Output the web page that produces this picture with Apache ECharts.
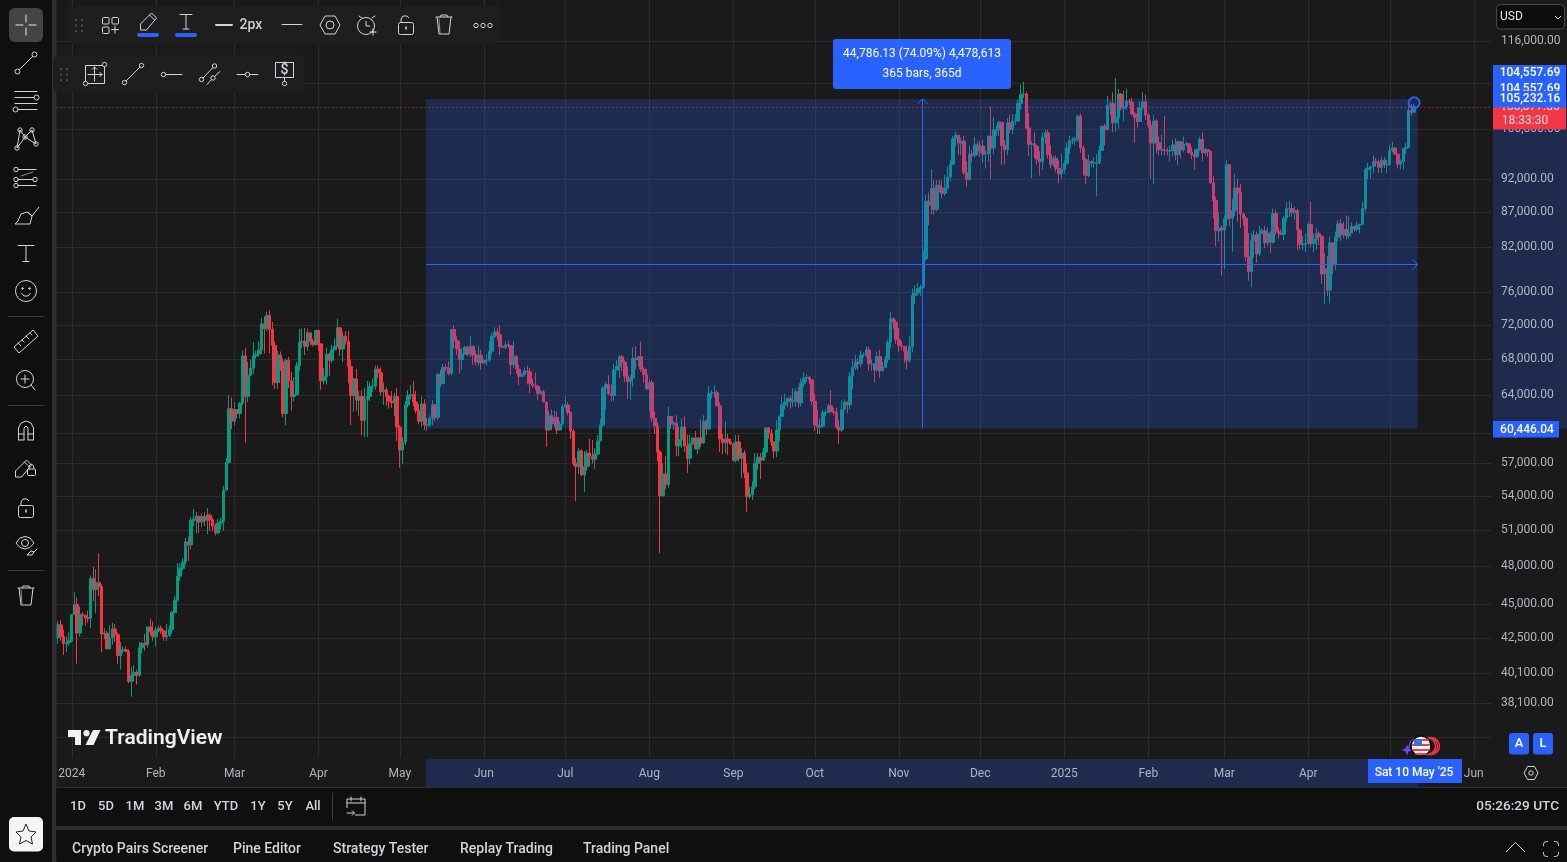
<!DOCTYPE html>
<html>
<head>
<meta charset="utf-8">
<title>BTC daily</title>
<style>html,body{margin:0;padding:0;background:#1a1a1a}#chart{width:1567px;height:862px}</style>
<script src="https://cdn.jsdelivr.net/npm/echarts@6/dist/echarts.min.js"></script>
</head>
<body>
<div id="chart"></div>
<script>
// Daily BTC prices in thousands of USD, one line per calendar month.
const firstDay = '2023-12-27';
const firstOpen = 42.5;
const closes = [
43.45,42.6,42.1,42.15,42.28,
44.2,44.95,42.85,44.2,44.15,43.97,43.93,46.97,46.1,46.63,46.34,42.78,42.84,41.73,42.5,43.15,42.74,41.26,41.62,41.66,41.55,39.5,39.9,40.1,39.93,41.8,42.12,42.03,43.3,42.95,42.58,
43.08,43.2,43.0,42.58,42.66,43.09,44.35,45.29,47.15,47.77,48.29,49.96,49.7,51.8,51.9,52.16,51.66,52.12,51.78,52.26,51.85,51.3,50.73,51.57,51.73,54.5,57.08,62.5,61.2,
62.4,62.0,63.1,68.3,63.8,66.1,66.9,68.3,68.5,69.0,72.1,71.5,73.1,71.4,69.5,65.3,68.4,67.6,62.0,67.8,65.5,63.8,64.0,67.2,69.9,69.99,69.4,71.0,70.0,69.6,71.3,
69.7,65.5,66.0,68.5,67.8,69.0,69.4,71.6,69.1,70.6,70.0,67.1,63.9,65.7,63.4,63.8,61.3,63.5,63.8,64.9,64.9,66.8,66.4,64.3,64.5,63.8,63.3,63.1,63.8,60.6,
58.3,59.1,62.9,63.9,64.0,63.2,62.3,61.2,63.0,60.8,60.8,61.5,62.9,61.6,66.2,65.2,67.0,66.9,66.3,71.4,70.1,69.1,67.9,68.5,69.3,68.5,69.4,68.4,67.6,68.4,67.5,
67.8,67.8,68.8,70.6,71.1,70.8,69.4,69.3,69.6,69.5,67.3,68.2,66.8,66.0,66.2,66.6,66.5,65.2,65.0,64.9,64.1,64.3,63.2,60.3,61.8,60.9,61.6,60.3,60.9,62.7,
62.9,62.1,60.2,57.0,56.7,58.2,55.9,56.7,58.0,57.7,57.4,57.9,59.2,60.8,64.7,65.1,64.1,63.9,66.7,67.1,68.2,67.6,66.0,65.4,65.8,68.0,67.9,68.2,66.8,66.2,64.6,
65.3,61.5,60.7,58.1,54.0,56.0,55.0,61.7,60.9,61.0,58.7,59.3,60.6,58.7,57.5,58.9,59.5,58.4,59.5,59.0,61.2,60.4,64.1,64.2,64.2,62.8,59.4,59.0,59.4,59.1,58.9,
57.3,59.1,57.5,58.0,56.1,53.9,54.1,54.8,57.0,57.6,57.3,58.1,60.5,60.0,59.1,58.2,60.3,61.7,62.9,63.2,63.6,63.3,63.3,64.3,63.1,65.2,65.8,65.9,65.6,63.3,
60.8,60.6,60.7,62.1,62.1,62.8,62.2,62.1,60.6,60.3,62.4,63.2,62.9,66.0,67.0,67.6,67.4,68.4,68.4,69.0,67.4,67.4,66.7,68.2,66.6,67.0,67.9,69.9,72.7,72.3,70.2,
69.5,69.4,68.8,67.8,69.4,75.6,75.9,76.5,76.7,80.4,88.6,88.0,90.5,87.4,91.0,90.6,89.8,90.5,92.3,94.3,98.4,99.0,97.7,98.0,93.0,91.9,95.9,95.7,97.4,96.4,
97.2,95.9,96.0,98.8,96.9,99.9,99.9,101.2,97.3,96.6,101.1,100.0,101.4,101.4,104.4,106.0,106.1,100.2,97.5,97.6,97.2,95.1,94.7,98.7,99.4,95.8,94.2,95.2,93.6,92.8,93.4,
94.4,96.9,98.1,98.2,98.3,102.2,96.9,95.0,92.5,94.7,94.5,94.5,94.5,96.5,100.5,99.9,104.1,104.4,101.1,102.0,106.1,103.6,103.9,104.8,104.7,102.6,102.0,101.3,103.7,104.7,102.4,
100.6,97.7,101.4,97.8,96.6,96.6,96.5,96.4,96.5,97.4,95.8,97.9,96.6,97.5,97.6,96.2,95.8,95.5,96.6,98.3,96.1,96.6,96.3,91.4,88.7,84.3,84.7,84.4,
86.0,94.2,86.1,87.2,90.6,89.9,86.7,86.1,80.7,78.7,82.9,83.7,81.1,83.9,84.3,82.6,84.0,82.7,86.8,84.2,84.0,83.8,86.1,87.5,87.5,86.9,87.2,84.4,82.4,82.4,82.5,
85.2,82.5,83.1,83.9,83.5,78.4,79.1,76.3,82.6,79.6,83.4,85.3,83.7,84.5,83.6,84.0,84.9,84.5,85.1,85.2,87.5,93.4,93.7,93.9,94.7,94.6,93.8,94.9,94.2,94.2,
96.5,96.9,95.9,94.3,94.7,96.8,97.0,103.2,102.9,103.87785
];
const highs = [
43.7,43.8,43.1,42.6,42.9,
44.2,45.9,45.5,44.8,44.4,44.2,44.5,47.2,47.9,47.7,49.0,46.5,43.2,43.0,43.4,43.6,43.5,42.9,42.2,41.9,41.9,41.7,40.5,40.6,40.3,42.2,42.2,42.8,43.3,43.9,43.7,
43.3,43.4,43.4,43.1,43.5,43.4,44.5,45.6,48.2,48.2,48.6,50.3,50.4,52.1,52.8,52.5,52.1,52.4,52.5,52.9,52.4,52.0,51.5,51.9,52.0,54.9,57.5,63.9,63.7,
63.2,62.4,63.2,68.9,69.2,67.6,67.9,69.9,68.9,70.0,72.8,73.0,73.6,73.7,72.3,70.0,68.9,68.8,68.0,68.0,68.2,66.5,65.9,67.6,71.5,71.5,71.6,71.5,71.0,70.3,71.3,
71.3,69.7,66.9,69.3,68.7,69.6,70.3,72.7,71.7,71.1,71.2,71.2,67.9,65.8,66.8,64.4,64.5,64.7,65.5,65.4,65.7,67.2,67.2,67.0,65.3,64.8,64.0,64.4,64.2,64.7,
60.8,59.6,63.3,64.5,65.0,65.5,64.4,63.0,63.8,63.5,61.5,61.8,63.4,63.0,66.4,66.7,67.4,67.4,67.7,71.5,71.9,70.6,70.0,69.2,69.5,69.5,70.6,69.5,68.9,69.5,69.0,
68.0,68.5,70.0,71.0,71.7,71.6,71.9,69.5,70.0,70.1,69.5,70.0,68.4,67.3,66.4,67.0,67.2,66.9,65.7,66.4,65.0,64.5,64.5,63.3,62.3,62.4,62.3,62.2,61.2,63.0,
63.8,63.2,62.2,60.4,57.5,58.5,58.4,58.2,58.3,59.4,59.3,58.5,59.8,61.4,64.9,65.4,66.1,65.1,67.4,67.8,68.4,68.4,67.8,67.1,66.1,69.3,69.4,68.3,70.0,67.0,66.8,
65.6,65.6,62.2,61.1,58.3,57.0,57.7,62.7,61.7,61.2,61.8,60.6,61.5,61.7,59.8,59.8,59.6,60.2,59.6,61.4,61.8,61.4,64.9,64.5,65.0,64.5,63.2,59.9,61.2,59.9,59.4,
59.0,59.8,59.8,58.5,58.3,57.0,54.8,55.3,58.0,58.0,58.0,58.5,60.6,60.6,60.4,59.1,61.3,61.8,63.8,64.1,63.6,63.9,64.7,64.7,64.8,65.8,66.4,66.2,66.0,65.6,
64.1,62.4,61.5,62.4,62.4,63.0,64.5,62.6,62.6,61.3,63.4,63.5,63.3,66.5,67.9,68.4,68.0,68.9,68.7,69.4,69.4,67.9,67.5,68.8,69.0,67.6,68.3,70.2,73.6,72.9,72.6,
71.6,70.0,69.4,69.5,70.6,76.5,76.9,77.2,77.0,81.5,89.6,89.9,93.5,91.8,91.8,91.8,91.7,92.6,94.0,94.9,98.9,99.6,98.8,98.6,98.9,94.7,97.3,96.6,98.7,98.0,
98.0,98.2,96.5,99.0,103.9,102.0,100.6,101.4,101.2,98.2,101.9,102.5,102.6,102.6,105.1,107.8,108.3,106.5,102.8,98.0,99.5,97.4,96.4,99.4,99.9,99.9,97.4,95.6,95.7,94.9,96.0,
94.9,97.8,98.9,98.7,98.8,102.5,102.7,97.3,95.3,95.8,94.9,95.4,95.9,97.3,100.7,100.9,105.8,104.9,106.4,109.0,107.0,106.3,106.7,107.1,105.3,105.4,103.0,103.7,104.8,106.4,106.0,
102.8,101.5,102.5,101.7,98.8,99.1,102.3,96.9,97.3,98.3,98.5,98.1,98.0,98.8,97.9,97.7,97.0,96.7,96.9,98.7,99.5,96.9,96.6,96.5,92.4,89.3,87.0,85.1,
86.5,95.0,94.3,88.9,92.8,92.0,91.2,86.9,86.4,84.0,84.0,84.4,84.2,85.0,84.7,85.0,84.8,84.2,87.5,87.3,84.8,84.5,86.4,88.5,88.7,88.3,87.8,87.5,84.6,83.5,83.9,
85.6,88.5,83.9,84.7,84.2,83.7,81.2,80.8,83.5,82.6,84.2,85.8,86.0,85.6,86.5,86.4,85.5,85.0,85.6,85.3,88.5,93.7,94.5,94.0,95.7,95.3,95.0,95.5,95.4,95.0,
97.4,97.9,97.0,96.0,95.1,96.9,97.7,104.0,104.3,104.4
];
const lows = [
42.1,42.3,41.3,41.5,41.95,
42.2,44.2,40.7,42.6,43.4,43.4,43.6,43.2,45.2,44.3,45.6,41.5,42.4,41.7,41.7,42.0,42.2,40.7,40.3,41.4,41.5,39.4,38.5,39.5,39.3,39.8,41.4,41.6,41.8,42.7,42.3,
41.9,42.9,42.8,42.3,42.3,42.6,42.8,44.3,45.2,46.8,47.6,48.1,48.4,49.3,51.3,50.7,50.7,51.2,51.3,50.6,50.9,50.9,50.5,50.6,51.0,50.9,54.4,57.0,60.4,
60.8,61.5,61.5,62.9,59.0,63.2,66.0,66.2,68.0,68.2,68.5,68.6,71.2,68.6,65.0,64.6,64.6,66.6,61.6,60.8,64.7,62.3,63.3,63.9,66.6,69.2,68.4,68.9,69.6,69.4,69.5,
68.9,64.5,65.1,65.1,66.0,67.5,69.0,69.3,68.3,67.6,69.6,65.2,60.8,62.2,62.3,61.7,59.8,59.6,59.6,63.3,64.3,64.5,65.8,63.9,62.9,62.8,62.5,62.6,61.7,59.2,
56.6,56.9,58.8,62.6,63.5,62.8,62.0,60.9,60.6,60.3,60.2,60.6,60.8,61.2,61.3,64.8,65.1,66.6,66.1,66.1,69.2,68.4,66.3,66.7,68.5,68.3,68.2,67.3,67.2,67.2,66.7,
67.4,67.2,67.6,68.5,70.4,70.1,68.4,69.2,69.1,69.2,66.1,66.9,66.3,65.0,65.9,66.1,65.1,64.1,64.7,64.5,63.4,64.0,63.2,58.6,60.3,60.3,60.6,59.9,60.5,60.8,
62.5,61.8,59.4,56.8,53.5,56.0,55.8,54.3,56.3,56.7,57.0,56.5,57.8,59.5,60.6,62.4,63.9,63.3,63.3,66.7,65.8,66.6,65.4,63.5,63.4,64.8,66.8,67.1,66.5,65.3,64.5,
62.3,61.1,59.9,57.2,49.0,53.9,54.6,54.7,60.4,60.3,57.7,57.7,58.5,58.1,56.1,56.9,58.8,58.4,57.9,58.6,58.9,59.8,60.4,63.6,63.7,62.8,58.1,57.9,58.0,57.8,58.8,
57.2,57.1,57.2,55.6,55.6,52.5,53.7,53.6,54.6,56.4,55.5,57.4,57.6,59.4,58.7,57.5,57.6,59.2,61.7,62.4,62.7,62.5,62.7,62.7,62.6,62.7,64.8,65.4,65.1,62.9,
60.2,59.9,59.9,60.5,61.7,62.1,62.1,61.8,60.4,58.9,60.1,62.4,62.0,62.4,64.6,66.7,66.7,67.0,68.1,68.1,66.6,66.6,65.3,66.5,65.8,66.8,66.9,67.5,69.2,71.5,69.7,
68.8,69.0,67.5,66.8,67.5,68.7,74.5,75.6,75.5,76.5,80.2,85.1,86.7,86.6,87.1,90.0,89.0,89.4,91.3,91.7,94.1,97.2,95.8,95.7,92.6,90.8,91.7,94.6,95.3,95.7,
95.4,94.6,93.6,94.7,91.9,95.9,98.9,98.8,94.2,94.3,95.7,99.3,99.2,100.7,101.3,103.3,105.4,100.0,95.6,92.1,95.2,94.2,92.5,93.4,97.6,95.2,93.6,93.9,93.0,91.3,92.0,
92.8,94.2,96.0,97.5,97.3,97.9,96.1,92.5,91.2,92.2,93.8,93.7,89.3,94.3,96.5,97.3,100.0,102.4,99.5,99.5,100.1,103.2,101.3,103.3,104.1,102.4,97.8,100.3,101.3,103.3,101.6,
100.2,92.0,91.2,96.1,95.7,95.7,95.7,95.7,94.7,95.5,94.9,94.1,95.2,96.2,97.2,96.0,95.1,93.4,95.3,96.4,94.8,95.7,95.4,91.2,86.1,82.1,82.8,78.2,
79.0,85.0,85.0,81.4,86.4,85.6,84.7,85.0,80.1,77.5,76.7,80.6,79.9,80.8,84.0,81.9,82.1,81.2,82.5,83.7,83.2,83.7,83.0,85.6,86.3,86.3,85.9,81.6,81.7,81.6,81.3,
82.4,82.0,81.3,81.6,82.3,77.1,74.5,75.5,74.6,78.4,78.9,82.8,82.9,83.2,83.1,83.2,84.0,84.2,84.2,83.9,85.1,87.1,91.9,92.0,92.9,93.9,92.9,92.9,93.7,92.9,
94.1,96.2,95.8,93.6,93.5,93.4,95.9,96.9,102.3,102.8
];

// Price scale ticks, and the month labels along the time scale.
const priceTicks = [116000,108000,100000,92000,87000,82000,76000,72000,68000,64000,60000,57000,54000,51000,48000,45000,42500,40100,38100];
const unlabelledTicks = [36000];
const monthDays = ['2024-01-01','2024-02-01','2024-03-01','2024-04-01','2024-05-01','2024-06-01','2024-07-01','2024-08-01','2024-09-01','2024-10-01','2024-11-01','2024-12-01','2025-01-01','2025-02-01','2025-03-01','2025-04-01','2025-05-01','2025-06-01'];
const monthNames = ['2024','Feb','Mar','Apr','May','Jun','Jul','Aug','Sep','Oct','Nov','Dec','2025','Feb','Mar','Apr','','Jun'];

// Price range measurement: two anchors, labelled by the tool.
const rangeTop = 105232.16;
const rangeBottom = 60446.04;
const rangeAnchorPrice = 104557.69;
const rangeStartBar = 135.6;
const rangeEndBar = 501.3;
const rangeAnchorBar = 500;
const rangeMidBar = 318.5;

const barCount = 529;
const days = [];
for (let i = 0, t = Date.parse(firstDay + 'T00:00:00Z'); i < barCount; i++, t += 864e5) {
  days.push(new Date(t).toISOString().slice(0, 10));
}
if (closes.length !== highs.length || closes.length !== lows.length || closes.length !== 501) {
  throw new Error('bar arrays differ: ' + [closes.length, highs.length, lows.length]);
}
const candles = closes.map((c, i) => {
  const o = i ? closes[i - 1] : firstOpen;
  return [o * 1000, c * 1000, Math.min(lows[i], o, c) * 1000, Math.max(highs[i], o, c) * 1000];
});
const lastPrice = closes[closes.length - 1] * 1000;

const FONT = 'Roboto, sans-serif';
const AXIS_TEXT = '#b2b5be';
const GRID = '#2c2c2c';
const BLUE = '#2962ff';
const RED = '#f23645';
const FG = '#d1d4dc';
const BAND = '#1e2b4e';
const plotLeft = 56.8, plotWidth = 1434.6, plotBottom = 758;

// ---- drawing helpers for the application chrome ----
const chrome = [];
function base(type, shape, style, z) { return {type, shape, style, z: z === undefined ? 100 : z, silent: true}; }
function ln(x1, y1, x2, y2, c, w, z) { chrome.push(base('line', {x1, y1, x2, y2}, {stroke: c || FG, lineWidth: w || 1, lineCap: 'round'}, z)); }
function ci(cx, cy, r, fill, stroke, w) { chrome.push(base('circle', {cx, cy, r}, {fill: fill || 'transparent', stroke: stroke === undefined ? FG : stroke, lineWidth: w || 1})); }
function rc(x, y, width, height, r, fill, stroke, z) { chrome.push(base('rect', {x, y, width, height, r: r || 0}, {fill: fill || 'transparent', stroke: stroke || 'transparent', lineWidth: 1}, z)); }
function rs(x, y, width, height, r) { rc(x, y, width, height, r, 'transparent', FG); }
function pl(points, c, w) { chrome.push(base('polyline', {points}, {stroke: c || FG, lineWidth: w || 1, fill: 'transparent', lineJoin: 'round'})); }
function pg(points, fill, stroke) { chrome.push(base('polygon', {points}, {fill: fill || 'transparent', stroke: stroke || 'transparent', lineWidth: 1})); }
function tx(text, x, y, font, fill, align, z) {
  chrome.push({type: 'text', z: z || 101, silent: true, style: {text, x, y, font: font + ' ' + FONT, fill: fill || FG, align: align || 'left', verticalAlign: 'middle'}});
}
function grip(x, y) { [x, x + 6].forEach(a => [y, y + 5.5, y + 11].forEach(b => rc(a - 1, b - 1, 2, 2, 0, '#4a4a4a'))); }
function trash(cx, cy) {
  ln(cx - 8, cy - 8, cx + 8, cy - 8);
  pl([[cx - 4, cy - 8], [cx - 3, cy - 10], [cx + 3, cy - 10], [cx + 4, cy - 8]]);
  pl([[cx - 7, cy - 8], [cx - 5, cy + 9], [cx + 5, cy + 9], [cx + 7, cy - 8]]);
  ln(cx - 5, cy - 6, cx - 4, cy + 8, '#8a8a8a');
}
function lock(cx, cy) {
  rs(cx - 7.5, cy - 3.5, 15, 12, 2);
  pl([[cx - 5, cy - 3.5], [cx - 5, cy - 7], [cx - 3, cy - 10], [cx + 1, cy - 10], [cx + 3, cy - 8]]);
  rc(cx - 0.8, cy + 0.5, 1.6, 3, 0, FG);
}
function pencil(x, y) {
  pg([[x, y + 15], [x, y + 9], [x + 11, y - 2], [x + 16, y + 3], [x + 6, y + 15]], null, FG);
  ln(x + 9, y, x + 14, y + 5);
}

// ---- panel backgrounds ----
rc(0, 0, 52, 862, 0, '#0f0f0f');
rc(52, 0, 4.5, 862, 0, '#2e2e2e');
rc(56, 787, 1511, 40, 3, '#0f0f0f');
rc(56, 826, 1511, 4, 0, '#2e2e2e');
rc(56, 830, 1511, 32, 3, '#0f0f0f');
ln(56, 787.5, 1567, 787.5, '#2e2e2e');

// ---- left tool rail ----
rc(9, 8, 34, 34, 6, '#444444');
ln(26, 15, 26, 22, '#e8e8e8'); ln(26, 28, 26, 35, '#e8e8e8'); ln(16, 25, 23, 25, '#e8e8e8'); ln(29, 25, 36, 25, '#e8e8e8');
ci(17.5, 71.5, 2.5); ci(34.5, 54.5, 2.5); ln(19.5, 69.5, 32.5, 56.5);
ln(15, 91.5, 37, 91.5); ln(15, 97.5, 34, 97.5); ci(36.5, 97.5, 2.5); ln(15, 103.5, 37, 103.5); ci(15.5, 109.5, 2.5); ln(18, 109.5, 37, 109.5);
[[20, 130], [32, 130], [17, 148], [36, 144], [25, 137]].forEach(p => ci(p[0], p[1], 2.2));
pl([[17, 148], [20, 130], [25, 137], [32, 130], [36, 144], [25, 137], [17, 148]]);
ln(18, 169.5, 36, 169.5); ci(16, 169.5, 2.2); ci(35, 179.5, 2.2); ln(18, 179.5, 33, 179.5); ci(16, 179.5, 2.2); ci(16, 185.5, 2.2); ln(18, 185.5, 36, 185.5); ln(21, 176, 33, 172, '#8a8a8a');
pl([[15, 224], [30, 224], [32, 216], [27, 212], [21, 214], [18, 221], [15, 224]]); pl([[28, 212], [32, 216], [39, 207]]);
ln(18, 245.5, 34, 245.5); ln(26, 245.5, 26, 261.5); ln(23, 261.5, 29, 261.5); 
ci(26, 291, 10.5); ci(22.5, 288.5, 0.8, FG); ci(29.5, 288.5, 0.8, FG); pl([[21.5, 293], [24, 296], [28, 296], [30.5, 293]]);
ln(8, 316.5, 44, 316.5, '#3c3c3c');
pg([[14, 347], [33, 330], [38, 336], [19, 353]], null, FG); [[18, 343, 21, 346], [22, 340, 24, 342], [26, 336, 29, 339], [30, 333, 32, 335]].forEach(a => ln(a[0], a[1], a[2], a[3]));
ci(25, 379, 8.5); ln(31, 385, 35, 390); ln(25, 375, 25, 383); ln(21, 379, 29, 379);
ln(8, 405.5, 44, 405.5, '#3c3c3c');
pl([[18.5, 440], [18.5, 428], [21, 423], [26, 421], [31, 423], [33.5, 428], [33.5, 440]]); pl([[24, 440], [24, 428], [26, 426], [28, 428], [28, 440]]); ln(18.5, 434, 24, 434); ln(28, 434, 33.5, 434); ln(18.5, 440, 24, 440); ln(28, 440, 33.5, 440);
pencil(15.5, 462); rs(27.5, 469, 8, 6.5, 1); pl([[29, 469], [29, 466], [31, 464], [33.5, 465.5], [34, 469]]);
lock(26, 509);
pl([[16, 543], [20, 538], [25, 536.5], [30, 538], [34, 543], [30, 547.5], [25, 549], [20, 547.5], [16, 543]]); ci(25, 543, 3.5); pl([[27, 555], [31, 551], [34, 552], [32, 555], [27, 555]]); ln(34, 552, 37, 549);
ln(8, 570.5, 44, 570.5, '#3c3c3c');
trash(26, 596);
rc(9, 817, 34, 34.5, 5, '#f5f5f5');
pg([[26, 824], [29, 831], [36, 832], [31, 837], [32.5, 844], [26, 840.5], [19.5, 844], [21, 837], [16, 832], [23, 831]], null, '#222222');

// ---- floating drawing toolbars ----
rc(67, 6, 434, 38, 6, '#1e1e1e');
grip(76, 20);
rs(102.5, 17.5, 6.5, 6.5, 1); rs(112, 17.5, 6.5, 6.5, 1); rs(102.5, 27, 6.5, 6.5, 1); ln(115, 26, 115, 33); ln(111.5, 29.5, 118.5, 29.5);
pencil(140.5, 15); rc(137, 33, 22, 4, 2, BLUE);
ln(180, 14.5, 192, 14.5); ln(186, 14.5, 186, 29); ln(183, 29, 189, 29); rc(175, 33, 22, 4, 2, BLUE);
ln(216, 25, 232, 25, FG, 2);
tx('2px', 239.5, 25.5, '500 14px', '#cfcfcf');
ln(282, 24.5, 302, 24.5);
pg([[320, 25], [325, 16], [335, 16], [340, 25], [335, 34], [325, 34]], null, FG); ci(330, 25, 4);
ci(366, 26, 8.5); pl([[366, 21], [366, 26], [370, 26]]); ln(359, 16, 362, 18); ln(372, 18, 375, 16); ln(373, 29, 373, 35, '#e8e8e8'); ln(370, 32, 376, 32, '#e8e8e8');
lock(406, 26);
trash(444, 25);
[476, 483, 490].forEach(x => ci(x, 25.5, 2.2));

rc(53, 55, 251, 38, 6, '#1e1e1e');
grip(61, 69);
rs(85.5, 65.5, 19, 18); ci(104.5, 64.5, 2.2, '#1e1e1e'); ci(85.5, 83.5, 2.2, '#1e1e1e');
ln(94.5, 67, 94.5, 81); pl([[92, 69.5], [94.5, 67], [97, 69.5]]); ln(88, 74.5, 102, 74.5); pl([[99.5, 72], [102, 74.5], [99.5, 77]]);
ci(124.5, 82.5, 2.2); ci(141.5, 65.5, 2.2); ln(126, 81, 140, 67);
ci(163.5, 74.5, 2.2); ln(166, 74.5, 182, 74.5);
ci(201.5, 79.5, 2.2); ci(214.5, 66, 2.2); ln(203, 78, 213, 67.5); ci(213, 78, 2.2); ln(207, 84.5, 211.5, 79.5); ln(214.5, 76.5, 220, 71.5);
ln(237, 74.5, 245, 74.5); ci(247.5, 74.5, 2.2); ln(250, 74.5, 258, 74.5);
rs(275.5, 62.5, 18, 15); ln(284.5, 77.5, 284.5, 81); ci(284.5, 83.5, 2.2);
tx('$', 284.5, 70.5, '500 14px', FG, 'center');

// ---- wordmark ----
pg([[68, 730], [81, 730], [81, 745], [75, 745], [75, 737], [68, 737]], '#f0f0f0');
ci(86.5, 733.2, 3.1, '#f0f0f0', 'transparent');
pg([[93, 730], [100.5, 730], [93.5, 745], [85.5, 745]], '#f0f0f0');
tx('TradingView', 105, 738.5, '600 21px', '#f0f0f0');

// ---- event marker near the time scale ----
[1431, 1429, 1427].forEach(x => ci(x, 746, 8.5, 'transparent', RED, 1.5));
pl([[1408, 750], [1411, 741], [1417, 737]], '#7b3ff2', 1.5);
pg([[1407, 744.5], [1408.5, 748.5], [1412.5, 750], [1408.5, 751.5], [1407, 755.5], [1405.5, 751.5], [1401.5, 750], [1405.5, 748.5]], '#7b3ff2');
ci(1421, 746, 10, '#f4f4f4', '#0c0c0c', 1.5);
[[1414.5, 1428, 740], [1413, 1429, 745], [1413.5, 1428.5, 750], [1416, 1426, 754]].forEach(a => ln(a[0], a[2], a[1], a[2], '#e8414f', 2));
rc(1414, 739, 8, 7, 1, '#3c6fd0');

// ---- price scale tags, stacked in drawing order ----
rc(1496.5, 4.5, 68, 24.5, 4, '#0c0c0c', '#4a4a4a');
tx('USD', 1500, 17, '12px', '#e6e6e6');
pl([[1555, 16], [1558, 19], [1561, 16]], '#e6e6e6');

function tag(y, h, text, textY, layer, right, textX) {
  rc(1493, y, (right || 1566) - 1493, h, 0, BLUE, null, layer);
  tx(text, textX || 1530, textY, '500 12px', '#ffffff', 'center', layer + 1);
}
rc(1493, 99, 73, 30.5, 0, RED, null, 110);
tx('103,877.85', 1530, 107, '12px', '#ffd8dc', 'center', 111);
tx('18:33:30', 1525, 121, '12px', '#ffd8dc', 'center', 111);
tag(65, 16, '104,557.69', 73, 112);
tag(81, 16, '104,557.69', 89, 114);
tag(91, 16.5, '105,232.16', 99, 116);
tag(421, 16.5, '60,446.04', 429.5, 112, 1559, 1527);

rc(1509, 733, 20, 21.5, 3, BLUE);
tx('A', 1519, 744, '500 13px', '#ffffff', 'center');
rc(1533, 733, 20, 21.5, 3, BLUE);
tx('L', 1543, 744, '500 13px', '#ffffff', 'center');

// ---- time scale tag ----
rc(1368, 759, 94, 24, 0, BLUE);
tx("Sat 10 May '25", 1414, 773, '500 12px', '#ffffff', 'center');
pg([[1524, 773], [1527.5, 766.5], [1534.5, 766.5], [1538, 773], [1534.5, 779.5], [1527.5, 779.5]], null, FG); ci(1531, 773, 2.2);

// ---- range bar ----
const rangeButtons = [['1D', 78], ['5D', 106], ['1M', 135], ['3M', 164], ['6M', 193], ['YTD', 226], ['1Y', 258], ['5Y', 285], ['All', 313]];
rangeButtons.forEach(b => tx(b[0], b[1], 807, '500 13px', '#d1d4dc', 'center'));
ln(332.5, 793, 332.5, 820, '#3c3c3c');
pl([[347, 808], [347, 799], [365, 799], [365, 815], [355, 815]]); ln(347, 803, 365, 803); ln(351, 797, 351, 801); ln(361, 797, 361, 801); ln(347, 813, 354, 813); pl([[352, 810.5], [354.5, 813], [352, 815.5]]);
tx('05:26:29 UTC', 1559, 807, '500 13.6px', '#d1d4dc', 'right');

// ---- bottom tabs ----
[['Crypto Pairs Screener', 72], ['Pine Editor', 233], ['Strategy Tester', 333], ['Replay Trading', 460], ['Trading Panel', 583]].forEach(t => tx(t[0], t[1], 849.5, '500 14px', '#d1d4dc'));
pl([[1506, 852], [1515.5, 842.5], [1525, 852]]);
rc(1543.5, 841.5, 15, 15, 3, 'transparent', FG);
rc(1540, 846, 22, 6, 0, '#0f0f0f'); rc(1548, 838, 6, 22, 0, '#0f0f0f');

// ---- series renderers, everything positioned through the axes ----
function crisp(v) { return Math.round(v) + 0.5; }
function renderPriceGrid(params, api) {
  const y = crisp(api.coord([0, api.value(0)])[1]);
  const cs = params.coordSys;
  const kids = [{type: 'line', shape: {x1: cs.x, y1: y, x2: cs.x + cs.width, y2: y}, style: {stroke: GRID, lineWidth: 1}}];
  if (api.value(1)) {
    kids.push({type: 'text', style: {text: api.value(0).toLocaleString('en-US', {minimumFractionDigits: 2}), x: 1501, y: y - 0.5, font: '12px ' + FONT, fill: AXIS_TEXT, align: 'left', verticalAlign: 'middle'}});
  }
  return {type: 'group', children: kids};
}
function renderMonthGrid(params, api) {
  const x = crisp(api.coord([api.value(0), 100000])[0]);
  const cs = params.coordSys;
  return {type: 'line', shape: {x1: x, y1: cs.y, x2: x, y2: cs.y + cs.height}, style: {stroke: GRID, lineWidth: 1}};
}
function rangeCorners(api) {
  return {a: api.coord([rangeStartBar, rangeTop]), b: api.coord([rangeEndBar, rangeBottom])};
}
function renderBands(params, api) {
  const {a, b} = rangeCorners(api);
  return {type: 'group', children: [
    {type: 'rect', shape: {x: 1493, y: a[1], width: 74, height: b[1] - a[1]}, style: {fill: BAND}},
    {type: 'rect', shape: {x: a[0], y: plotBottom + 1, width: b[0] - a[0], height: 28}, style: {fill: BAND}}
  ]};
}
function renderMeasure(params, api) {
  const {a, b} = rangeCorners(api);
  const cs = params.coordSys;
  const midPrice = Math.sqrt(rangeTop * rangeBottom);
  const my = crisp(api.coord([rangeStartBar, midPrice])[1]);
  const mx = crisp(api.coord([rangeMidBar, midPrice])[0]);
  const py = crisp(api.coord([0, lastPrice])[1]);
  const end = api.coord([rangeAnchorBar, rangeAnchorPrice]);
  const stroke = {stroke: BLUE, lineWidth: 1, fill: 'transparent'};
  return {type: 'group', children: [
    {type: 'rect', shape: {x: a[0], y: a[1], width: b[0] - a[0], height: b[1] - a[1]}, style: {fill: 'rgba(41,98,255,0.23)'}},
    {type: 'line', shape: {x1: a[0], y1: my, x2: b[0], y2: my}, style: stroke},
    {type: 'line', shape: {x1: mx, y1: a[1], x2: mx, y2: b[1]}, style: stroke},
    {type: 'polyline', shape: {points: [[b[0] - 5, my - 5], [b[0], my], [b[0] - 5, my + 5]]}, style: stroke},
    {type: 'polyline', shape: {points: [[mx - 5, a[1] + 5], [mx, a[1]], [mx + 5, a[1] + 5]]}, style: stroke},
    {type: 'line', shape: {x1: cs.x, y1: py, x2: cs.x + cs.width, y2: py}, style: {stroke: RED, lineWidth: 1, lineDash: [1, 3]}},
    {type: 'circle', shape: {cx: end[0], cy: end[1], r: 5.5}, style: {stroke: BLUE, lineWidth: 2, fill: 'transparent'}},
    {type: 'rect', shape: {x: 833, y: 39, width: 178, height: 50, r: 3}, style: {fill: BLUE}},
    {type: 'text', style: {text: '44,786.13 (74.09%) 4,478,613', x: 922, y: 54, font: '12px ' + FONT, fill: '#ffffff', align: 'center', verticalAlign: 'middle'}},
    {type: 'text', style: {text: '365 bars, 365d', x: 922, y: 74, font: '12px ' + FONT, fill: '#ffffff', align: 'center', verticalAlign: 'middle'}}
  ]};
}

const priceGridRows = priceTicks.map(v => [v, 1]).concat(unlabelledTicks.map(v => [v, 0]));
const overlayAxis = {xAxisIndex: 1, yAxisIndex: 0, clip: false, silent: true, animation: false};

const option = {
  animation: false,
  backgroundColor: '#1a1a1a',
  textStyle: {fontFamily: FONT},
  grid: {left: plotLeft, top: 0, width: plotWidth, height: plotBottom, show: false},
  xAxis: [
    {
      type: 'category', data: days, boundaryGap: true,
      axisLine: {show: false}, axisTick: {show: false}, splitLine: {show: false},
      axisLabel: {
        color: AXIS_TEXT, fontSize: 12, margin: 10, fontFamily: FONT, hideOverlap: false,
        interval: (i, day) => monthDays.indexOf(day) >= 0,
        formatter: day => { const k = monthDays.indexOf(day); return k >= 0 ? monthNames[k] : ''; }
      }
    },
    {type: 'value', show: false, min: -0.5, max: barCount - 0.5, scale: true}
  ],
  yAxis: {type: 'log', logBase: 10, min: 34730, max: 124280, show: false},
  graphic: {elements: chrome},
  series: [
    {type: 'custom', name: 'bands', z: -1, renderItem: renderBands, data: [[0, rangeTop]], encode: {x: 0, y: 1}, ...overlayAxis},
    {type: 'custom', name: 'price grid', z: 1, renderItem: renderPriceGrid, data: priceGridRows, encode: {y: 0}, dimensions: ['price', 'labelled'], ...overlayAxis},
    {type: 'custom', name: 'month grid', z: 1, renderItem: renderMonthGrid, data: monthDays.map(d => [days.indexOf(d)]), encode: {x: 0}, ...overlayAxis},
    {
      type: 'candlestick', name: 'BTCUSD', xAxisIndex: 0, yAxisIndex: 0, z: 3, barWidth: 3, silent: true, clip: true, animation: false,
      itemStyle: {color: '#089981', color0: RED, borderColor: '#089981', borderColor0: RED, borderWidth: 1},
      data: candles
    },
    {type: 'custom', name: 'price range', z: 5, renderItem: renderMeasure, data: [[0, rangeTop]], encode: {x: 0, y: 1}, ...overlayAxis}
  ]
};
echarts.init(document.getElementById('chart')).setOption(option);
</script>
</body>
</html>
